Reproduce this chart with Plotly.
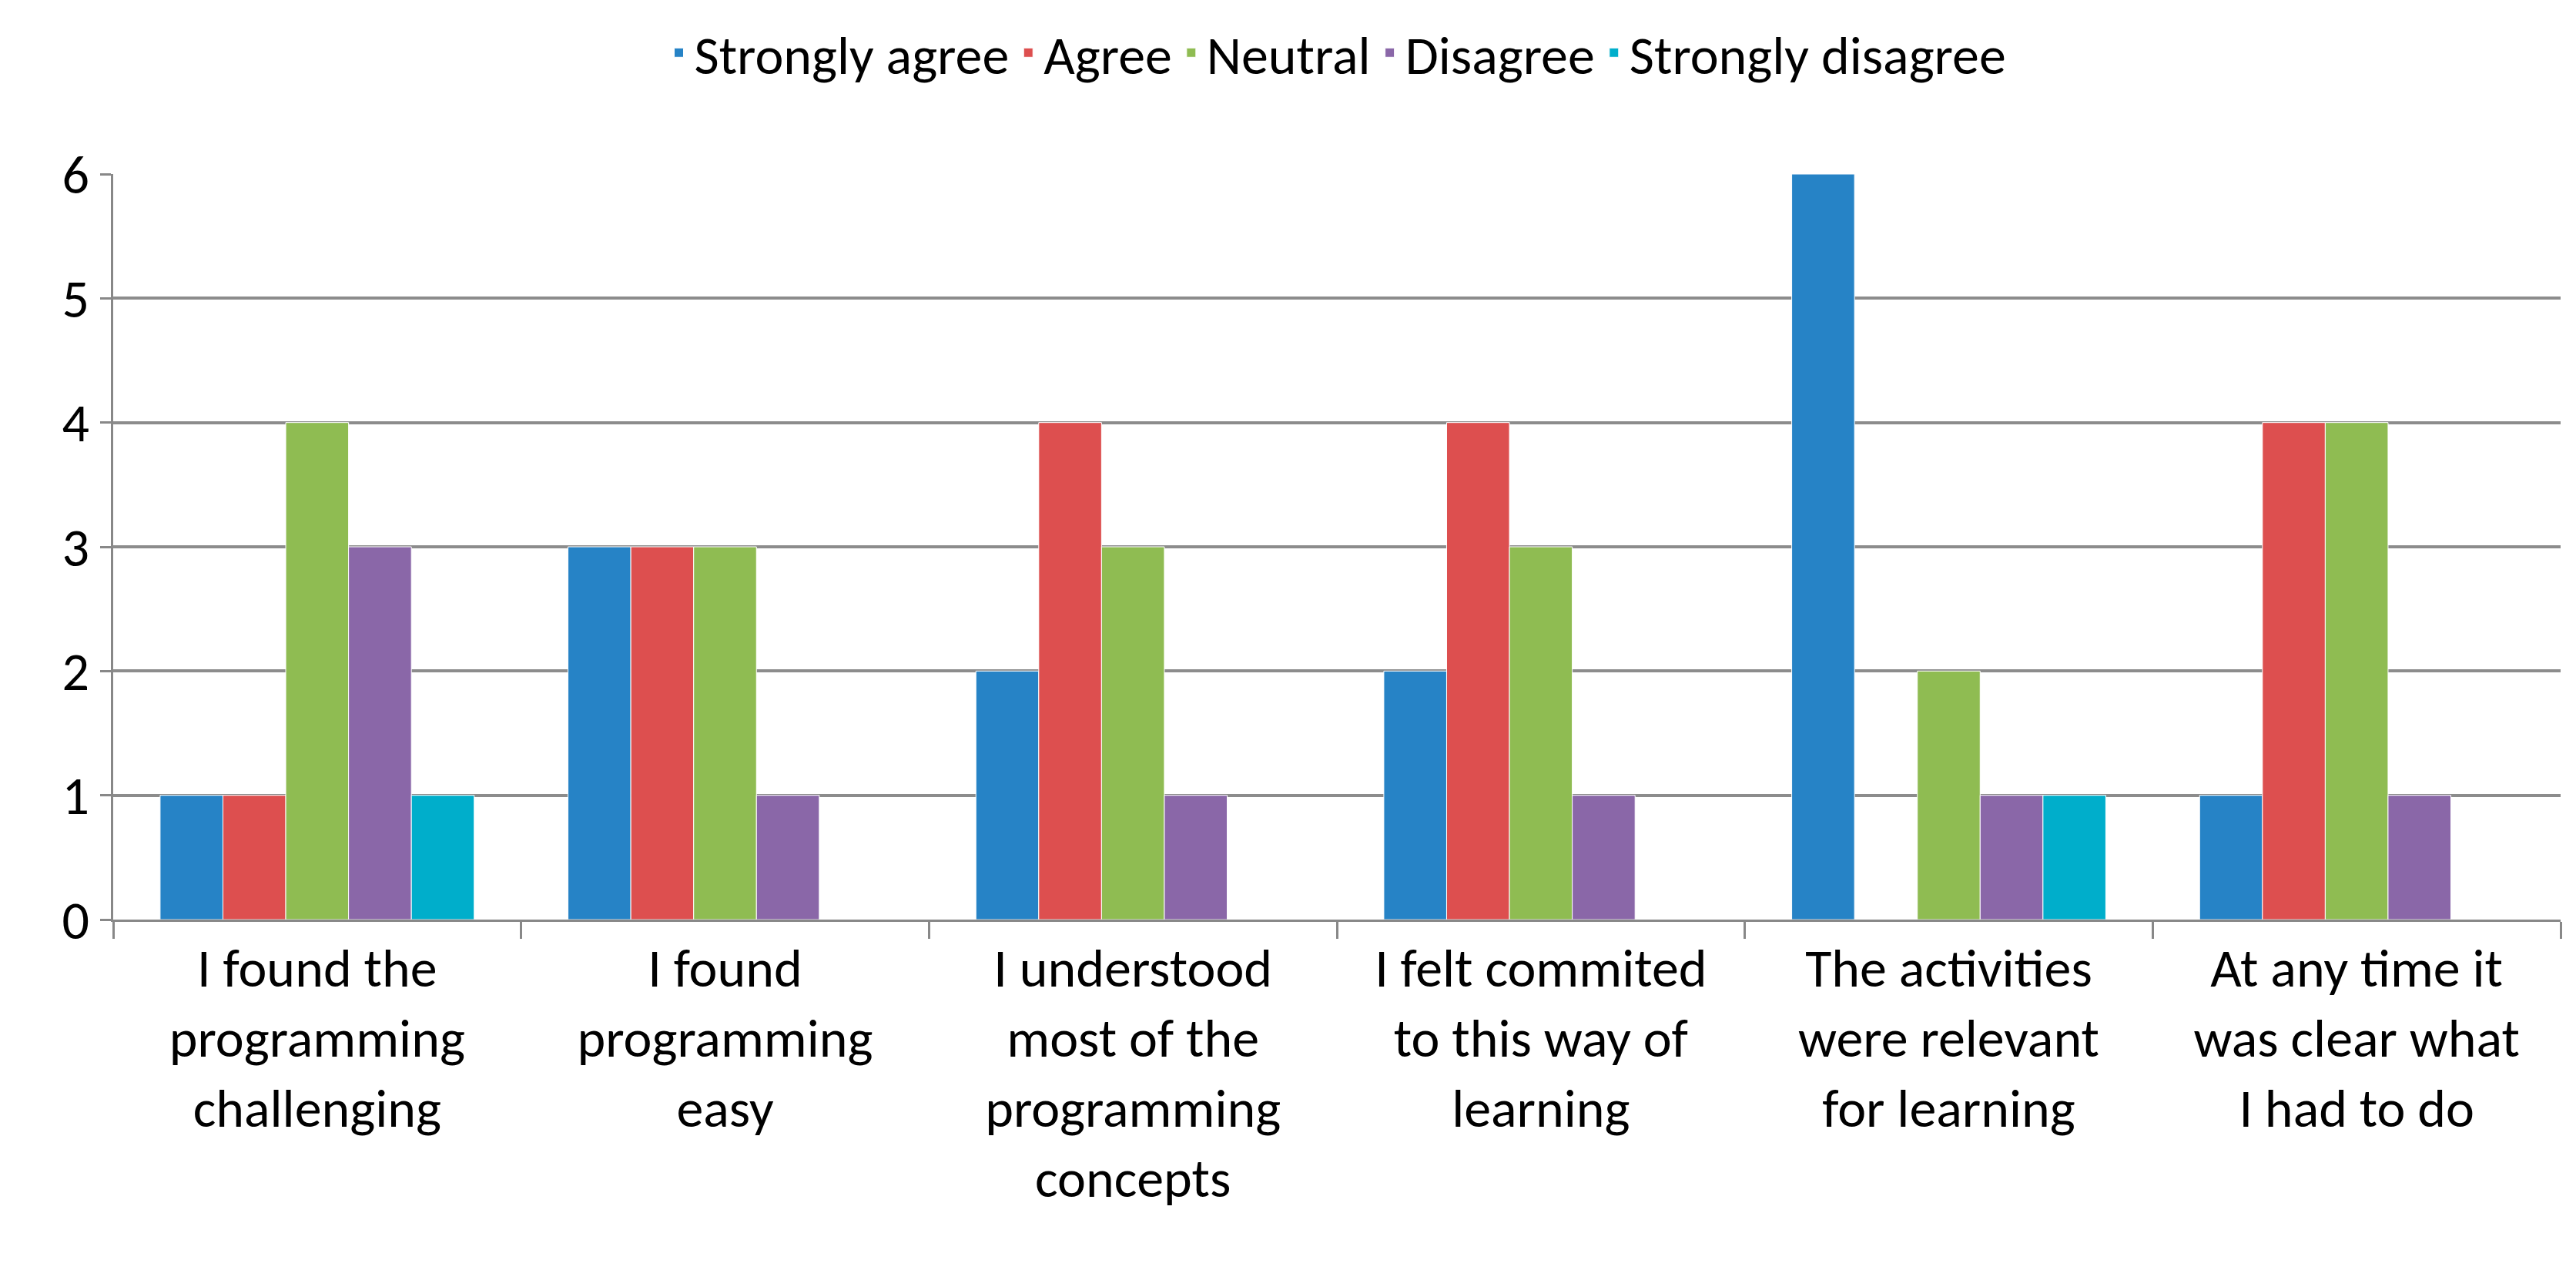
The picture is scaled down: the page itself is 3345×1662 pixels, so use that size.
import plotly.graph_objects as go

categories = ["I found the<br>programming<br>challenging", "I found<br>programming<br>easy",
              "I understood<br>most of the<br>programming<br>concepts", "I felt commited<br>to this way of<br>learning",
              "The activities<br>were relevant<br>for learning", "At any time it<br>was clear what<br>I had to do"]
series = ["Strongly agree", "Agree", "Neutral", "Disagree", "Strongly disagree"]
values = {
    "Strongly agree": [1, 3, 2, 2, 6, 1],
    "Agree": [1, 3, 4, 4, 0, 4],
    "Neutral": [4, 3, 3, 3, 2, 4],
    "Disagree": [3, 1, 1, 1, 1, 1],
    "Strongly disagree": [1, 0, 0, 0, 1, 0],
}
colors = ["#2683C6", "#DD4F4F", "#8FBC52", "#8A67A8", "#00AECB"]

fig = go.Figure()
for s, c in zip(series, colors):
    fig.add_trace(go.Bar(x=categories, y=values[s], name=s, marker_color=c,
                         marker_line=dict(color="white", width=1)))

font = "Carlito, Lato, 'Open Sans', sans-serif"
fig.update_layout(
    width=3345, height=1662, barmode="group", bargap=0.23, bargroupgap=0,
    plot_bgcolor="white", paper_bgcolor="white",
    margin=dict(l=139, r=28, t=218, b=476),
    font=dict(family=font, size=70, color="black"),
    legend=dict(orientation="h", x=0.5, xanchor="center", y=0.995, yanchor="top",
                yref="container", font=dict(size=70), itemwidth=30, traceorder="normal"),
    xaxis=dict(showline=True, linecolor="#888888", linewidth=3, ticks="outside",
               tickson="boundaries", ticklen=22, tickwidth=3, tickcolor="#888888",
               tickfont=dict(size=70)),
    yaxis=dict(range=[0, 6], dtick=1, showgrid=True, gridcolor="#8C8C8C", gridwidth=4,
               showline=True, linecolor="#888888", linewidth=3, ticks="outside",
               ticklen=14, tickwidth=3, tickcolor="#888888", tickfont=dict(size=70),
               zeroline=False),
)
fig.write_html("out.html")
